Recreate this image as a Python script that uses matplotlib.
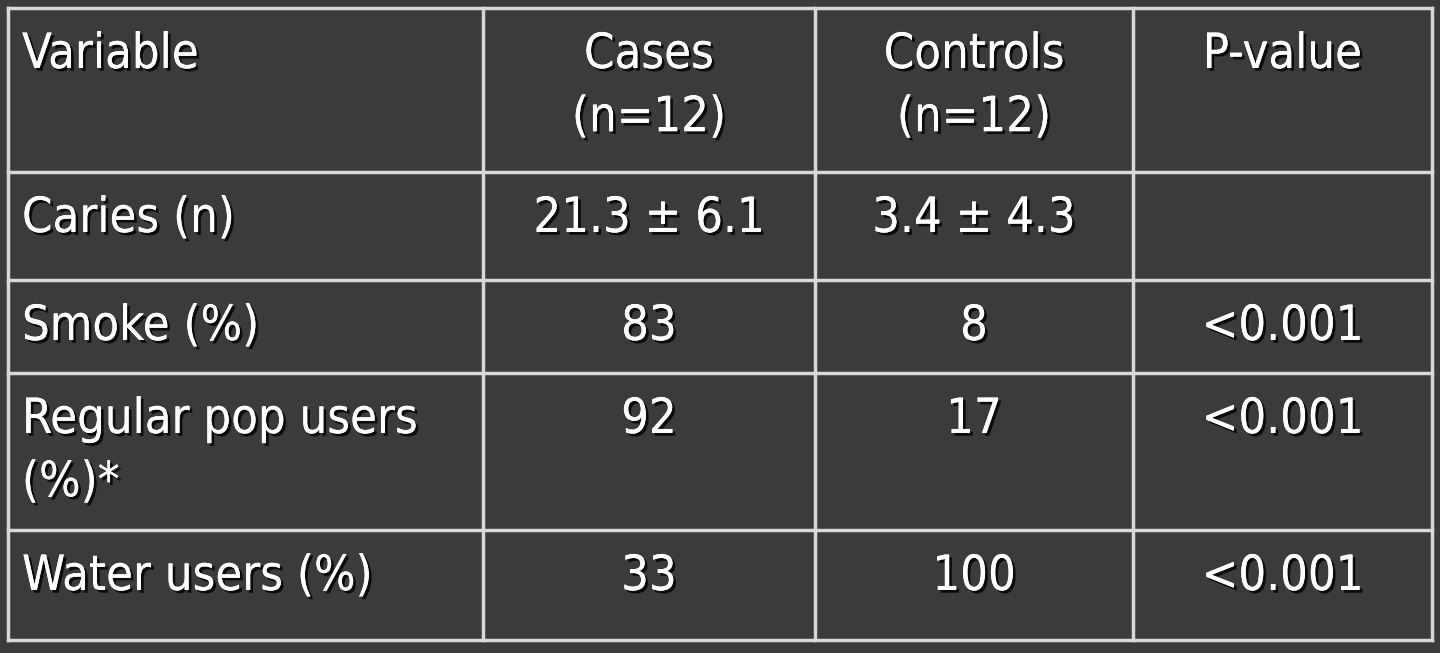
import matplotlib
matplotlib.use("Agg")
import matplotlib.pyplot as plt
import matplotlib.patheffects as pe

headers = ["Variable", "Cases\n(n=12)", "Controls\n(n=12)", "P-value"]
variables = ["Caries (n)", "Smoke (%)", "Regular pop users\n(%)*", "Water users (%)"]
cases = ["21.3 ± 6.1", "83", "92", "33"]
controls = ["3.4 ± 4.3", "8", "17", "100"]
pvalues = ["", "<0.001", "<0.001", "<0.001"]

col_x = [8, 483, 815, 1133, 1432]
row_y = [8, 172, 280, 373, 530, 640]

fig = plt.figure(figsize=(14.4, 6.53), dpi=100)
fig.patch.set_facecolor("#3b3b3b")
ax = fig.add_axes([0, 0, 1, 1])
ax.set_xlim(0, 1440); ax.set_ylim(653, 0); ax.axis("off")

lc = "#d8d8d8"
for x in col_x:
    ax.plot([x, x], [row_y[0], row_y[-1]], color=lc, lw=2.5)
for y in row_y:
    ax.plot([col_x[0], col_x[-1]], [y, y], color=lc, lw=2.5)

fx = [pe.withSimplePatchShadow(offset=(2, -2), shadow_rgbFace="black", alpha=0.8), pe.Normal()]
fs = 35
def put(col, row, s):
    y = row_y[row] + 22
    kw = dict(color="white", fontsize=fs, va="top", linespacing=1.4,
              path_effects=fx, family="DejaVu Sans", stretch="condensed")
    if col == 0:
        ax.text(col_x[0] + 14, y, s, ha="left", **kw)
    else:
        ax.text((col_x[col] + col_x[col + 1]) / 2, y, s, ha="center", **kw)

for c, h in enumerate(headers):
    put(c, 0, h)
for r in range(len(variables)):
    put(0, r + 1, variables[r])
    put(1, r + 1, cases[r])
    put(2, r + 1, controls[r])
    put(3, r + 1, pvalues[r])

fig.savefig("out.png", dpi=100, facecolor=fig.get_facecolor())
